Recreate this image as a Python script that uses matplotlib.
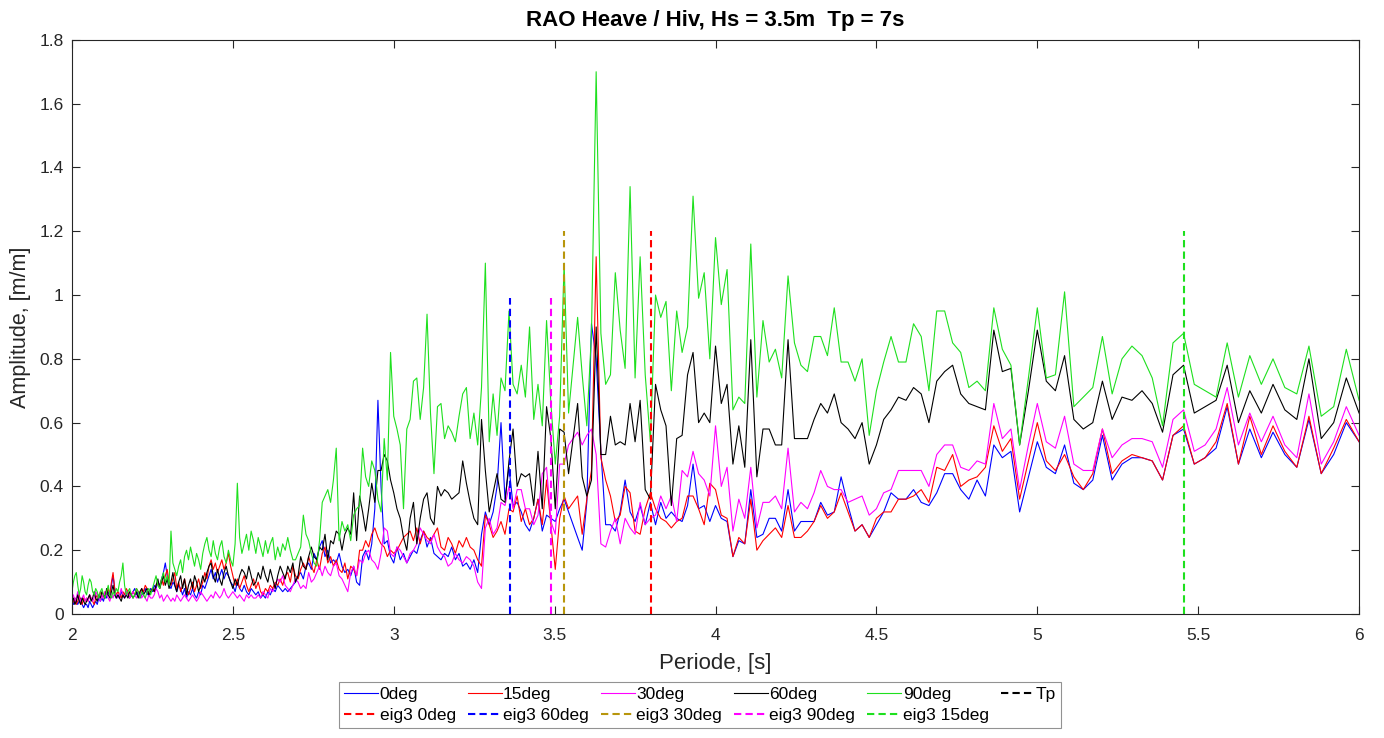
import numpy as np
import matplotlib
matplotlib.use('Agg')
import matplotlib.pyplot as plt
from matplotlib.ticker import MultipleLocator, FuncFormatter

plt.rcParams['font.family'] = ['Liberation Sans', 'DejaVu Sans']

# sampled wave frequencies [Hz] -> periods [s]
freq = np.linspace(1 / 2, 1 / 6, 301)
period = 1.0 / freq

amp_0deg = [
    0.04, 0.03, 0.05, 0.04, 0.03, 0.04, 0.05, 0.03, 0.02, 0.03,
    0.03, 0.02, 0.04, 0.03, 0.02, 0.03, 0.04, 0.03, 0.05, 0.04,
    0.05, 0.04, 0.06, 0.05, 0.07, 0.06, 0.09, 0.12, 0.08, 0.05,
    0.06, 0.05, 0.07, 0.06, 0.05, 0.07, 0.06, 0.05, 0.06, 0.07,
    0.08, 0.06, 0.07, 0.05, 0.06, 0.07, 0.08, 0.06, 0.07, 0.08,
    0.07, 0.09, 0.08, 0.10, 0.09, 0.11, 0.13, 0.16, 0.12, 0.09,
    0.08, 0.10, 0.09, 0.07, 0.09, 0.08, 0.06, 0.08, 0.05, 0.07,
    0.06, 0.08, 0.06, 0.05, 0.07, 0.06, 0.09, 0.08, 0.10, 0.12,
    0.14, 0.11, 0.13, 0.10, 0.12, 0.14, 0.11, 0.13, 0.12, 0.10,
    0.09, 0.07, 0.10, 0.08, 0.07, 0.09, 0.07, 0.06, 0.08, 0.07,
    0.06, 0.07, 0.05, 0.06, 0.05, 0.07, 0.06, 0.08, 0.07, 0.09,
    0.08, 0.07, 0.08, 0.07, 0.08, 0.09, 0.10, 0.12, 0.13, 0.11,
    0.15, 0.16, 0.14, 0.19, 0.17, 0.21, 0.23, 0.18, 0.20, 0.16,
    0.17, 0.16, 0.19, 0.15, 0.13, 0.14, 0.12, 0.15, 0.10, 0.09,
    0.18, 0.20, 0.17, 0.22, 0.33, 0.67, 0.40, 0.22, 0.23, 0.18,
    0.16, 0.21, 0.17, 0.19, 0.16, 0.18, 0.20, 0.19, 0.23, 0.26,
    0.21, 0.24, 0.19, 0.18, 0.17, 0.19, 0.18, 0.21, 0.17, 0.19,
    0.15, 0.16, 0.14, 0.17, 0.13, 0.25, 0.32, 0.28, 0.32, 0.40,
    0.60, 0.36, 0.46, 0.34, 0.35, 0.32, 0.28, 0.26, 0.30, 0.36,
    0.26, 0.31, 0.30, 0.29, 0.33, 0.36, 0.32, 0.28, 0.24, 0.20,
    0.35, 0.91, 0.80, 0.51, 0.28, 0.28, 0.26, 0.32, 0.42, 0.32,
    0.29, 0.34, 0.28, 0.35, 0.28, 0.35, 0.30, 0.32, 0.30, 0.29,
    0.34, 0.47, 0.33, 0.34, 0.29, 0.34, 0.30, 0.29, 0.18, 0.23,
    0.22, 0.39, 0.24, 0.25, 0.30, 0.30, 0.26, 0.39, 0.26, 0.29,
    0.29, 0.29, 0.35, 0.31, 0.32, 0.43, 0.34, 0.26, 0.28, 0.24,
    0.28, 0.32, 0.38, 0.36, 0.36, 0.39, 0.35, 0.34, 0.38, 0.44,
    0.44, 0.39, 0.36, 0.42, 0.37, 0.53, 0.49, 0.51, 0.32, 0.43,
    0.54, 0.46, 0.44, 0.53, 0.41, 0.39, 0.42, 0.56, 0.42, 0.47,
    0.49, 0.49, 0.48, 0.42, 0.56, 0.58, 0.47, 0.49, 0.52, 0.65,
    0.47, 0.58, 0.49, 0.57, 0.50, 0.46, 0.61, 0.44, 0.50, 0.60,
    0.54,
]

amp_15deg = [
    0.03, 0.04, 0.05, 0.03, 0.04, 0.06, 0.04, 0.03, 0.05, 0.04,
    0.05, 0.04, 0.06, 0.05, 0.04, 0.03, 0.05, 0.06, 0.05, 0.07,
    0.06, 0.05, 0.07, 0.06, 0.08, 0.06, 0.10, 0.13, 0.08, 0.06,
    0.07, 0.06, 0.05, 0.07, 0.06, 0.08, 0.07, 0.05, 0.06, 0.07,
    0.06, 0.08, 0.07, 0.06, 0.08, 0.07, 0.09, 0.08, 0.06, 0.07,
    0.08, 0.07, 0.09, 0.10, 0.08, 0.11, 0.09, 0.12, 0.14, 0.10,
    0.09, 0.11, 0.13, 0.08, 0.10, 0.07, 0.09, 0.11, 0.08, 0.06,
    0.08, 0.10, 0.07, 0.09, 0.11, 0.08, 0.10, 0.13, 0.11, 0.15,
    0.17, 0.14, 0.16, 0.13, 0.15, 0.17, 0.14, 0.16, 0.19, 0.15,
    0.12, 0.09, 0.11, 0.08, 0.10, 0.12, 0.09, 0.07, 0.09, 0.11,
    0.08, 0.10, 0.07, 0.06, 0.08, 0.07, 0.09, 0.08, 0.10, 0.09,
    0.11, 0.09, 0.12, 0.13, 0.10, 0.15, 0.12, 0.11, 0.14, 0.16,
    0.14, 0.18, 0.15, 0.13, 0.17, 0.14, 0.19, 0.21, 0.16, 0.18,
    0.15, 0.17, 0.14, 0.13, 0.16, 0.11, 0.15, 0.14, 0.12, 0.20,
    0.20, 0.23, 0.21, 0.25, 0.27, 0.24, 0.22, 0.21, 0.18, 0.20,
    0.19, 0.20, 0.22, 0.24, 0.25, 0.26, 0.23, 0.27, 0.22, 0.26,
    0.24, 0.23, 0.25, 0.27, 0.21, 0.20, 0.24, 0.22, 0.19, 0.23,
    0.21, 0.24, 0.21, 0.20, 0.17, 0.15, 0.31, 0.28, 0.24, 0.26,
    0.29, 0.25, 0.33, 0.32, 0.37, 0.29, 0.33, 0.28, 0.30, 0.36,
    0.28, 0.42, 0.28, 0.14, 0.30, 0.37, 0.33, 0.35, 0.37, 0.25,
    0.36, 0.45, 1.12, 0.49, 0.42, 0.37, 0.29, 0.31, 0.40, 0.38,
    0.26, 0.25, 0.33, 0.38, 0.33, 0.30, 0.29, 0.27, 0.29, 0.30,
    0.37, 0.37, 0.33, 0.28, 0.41, 0.39, 0.31, 0.30, 0.18, 0.24,
    0.22, 0.36, 0.20, 0.23, 0.25, 0.27, 0.24, 0.34, 0.24, 0.24,
    0.26, 0.29, 0.34, 0.30, 0.32, 0.38, 0.32, 0.26, 0.28, 0.24,
    0.30, 0.32, 0.32, 0.36, 0.36, 0.37, 0.39, 0.35, 0.46, 0.45,
    0.50, 0.40, 0.42, 0.43, 0.46, 0.59, 0.51, 0.55, 0.36, 0.48,
    0.60, 0.48, 0.45, 0.50, 0.43, 0.39, 0.44, 0.58, 0.44, 0.48,
    0.50, 0.49, 0.48, 0.42, 0.56, 0.59, 0.47, 0.49, 0.54, 0.66,
    0.47, 0.62, 0.50, 0.59, 0.51, 0.46, 0.62, 0.44, 0.52, 0.61,
    0.54,
]

amp_30deg = [
    0.05, 0.06, 0.04, 0.05, 0.07, 0.05, 0.04, 0.05, 0.06, 0.04,
    0.05, 0.04, 0.06, 0.05, 0.04, 0.05, 0.07, 0.06, 0.05, 0.04,
    0.06, 0.05, 0.07, 0.06, 0.05, 0.04, 0.06, 0.05, 0.07, 0.06,
    0.05, 0.06, 0.08, 0.06, 0.05, 0.07, 0.06, 0.05, 0.06, 0.07,
    0.06, 0.05, 0.06, 0.07, 0.05, 0.06, 0.05, 0.04, 0.06, 0.05,
    0.05, 0.06, 0.08, 0.07, 0.05, 0.06, 0.04, 0.05, 0.06, 0.05,
    0.04, 0.05, 0.04, 0.06, 0.05, 0.04, 0.05, 0.06, 0.05, 0.04,
    0.05, 0.06, 0.05, 0.04, 0.05, 0.07, 0.06, 0.05, 0.04, 0.05,
    0.06, 0.05, 0.07, 0.06, 0.05, 0.06, 0.08, 0.06, 0.05, 0.06,
    0.07, 0.06, 0.05, 0.06, 0.05, 0.04, 0.06, 0.05, 0.06, 0.05,
    0.05, 0.06, 0.05, 0.07, 0.06, 0.05, 0.08, 0.07, 0.09, 0.11,
    0.10, 0.12, 0.09, 0.08, 0.07, 0.09, 0.11, 0.10, 0.08, 0.09,
    0.08, 0.13, 0.10, 0.11, 0.13, 0.15, 0.12, 0.15, 0.13, 0.12,
    0.15, 0.16, 0.12, 0.11, 0.09, 0.07, 0.13, 0.15, 0.12, 0.17,
    0.16, 0.19, 0.20, 0.17, 0.16, 0.14, 0.19, 0.27, 0.26, 0.19,
    0.18, 0.21, 0.20, 0.18, 0.16, 0.19, 0.20, 0.22, 0.27, 0.25,
    0.23, 0.22, 0.25, 0.21, 0.19, 0.18, 0.15, 0.16, 0.19, 0.17,
    0.16, 0.18, 0.17, 0.15, 0.10, 0.08, 0.27, 0.30, 0.25, 0.27,
    0.35, 0.34, 0.40, 0.33, 0.39, 0.39, 0.33, 0.33, 0.28, 0.31,
    0.44, 0.46, 0.29, 0.25, 0.47, 0.47, 0.53, 0.55, 0.57, 0.53,
    0.56, 0.58, 0.50, 0.22, 0.21, 0.26, 0.30, 0.22, 0.30, 0.27,
    0.25, 0.35, 0.28, 0.30, 0.31, 0.37, 0.33, 0.37, 0.29, 0.45,
    0.43, 0.51, 0.44, 0.42, 0.37, 0.59, 0.40, 0.46, 0.26, 0.36,
    0.30, 0.46, 0.27, 0.35, 0.35, 0.37, 0.33, 0.52, 0.32, 0.35,
    0.33, 0.38, 0.45, 0.40, 0.39, 0.39, 0.35, 0.36, 0.37, 0.31,
    0.33, 0.38, 0.39, 0.45, 0.45, 0.45, 0.45, 0.40, 0.50, 0.53,
    0.53, 0.46, 0.45, 0.48, 0.47, 0.66, 0.55, 0.58, 0.39, 0.53,
    0.66, 0.54, 0.52, 0.62, 0.47, 0.45, 0.45, 0.58, 0.49, 0.53,
    0.55, 0.55, 0.54, 0.46, 0.61, 0.64, 0.51, 0.53, 0.58, 0.71,
    0.53, 0.63, 0.54, 0.62, 0.53, 0.49, 0.69, 0.47, 0.54, 0.65,
    0.56,
]

amp_60deg = [
    0.04, 0.05, 0.03, 0.04, 0.06, 0.04, 0.03, 0.05, 0.04, 0.03,
    0.04, 0.05, 0.06, 0.04, 0.05, 0.07, 0.05, 0.04, 0.06, 0.05,
    0.07, 0.06, 0.05, 0.08, 0.06, 0.05, 0.07, 0.09, 0.06, 0.05,
    0.06, 0.05, 0.04, 0.06, 0.05, 0.06, 0.05, 0.07, 0.06, 0.05,
    0.06, 0.07, 0.05, 0.07, 0.08, 0.06, 0.07, 0.08, 0.06, 0.07,
    0.08, 0.07, 0.09, 0.11, 0.08, 0.10, 0.12, 0.09, 0.11, 0.08,
    0.10, 0.13, 0.09, 0.07, 0.10, 0.12, 0.08, 0.11, 0.06, 0.09,
    0.11, 0.08, 0.12, 0.10, 0.07, 0.09, 0.12, 0.10, 0.13, 0.15,
    0.16, 0.12, 0.10, 0.14, 0.11, 0.09, 0.13, 0.15, 0.12, 0.10,
    0.08, 0.11, 0.09, 0.12, 0.14, 0.13, 0.11, 0.15, 0.12, 0.09,
    0.10, 0.13, 0.11, 0.15, 0.12, 0.10, 0.14, 0.11, 0.08, 0.12,
    0.15, 0.13, 0.11, 0.15, 0.13, 0.16, 0.10, 0.12, 0.18, 0.15,
    0.14, 0.18, 0.21, 0.18, 0.17, 0.21, 0.20, 0.25, 0.17, 0.23,
    0.22, 0.26, 0.25, 0.20, 0.25, 0.27, 0.25, 0.38, 0.23, 0.37,
    0.32, 0.26, 0.33, 0.41, 0.35, 0.45, 0.45, 0.50, 0.48, 0.42,
    0.38, 0.33, 0.30, 0.24, 0.20, 0.30, 0.35, 0.22, 0.30, 0.36,
    0.38, 0.30, 0.28, 0.40, 0.37, 0.39, 0.38, 0.36, 0.37, 0.38,
    0.48, 0.41, 0.35, 0.30, 0.28, 0.61, 0.45, 0.32, 0.38, 0.44,
    0.36, 0.35, 0.48, 0.58, 0.40, 0.44, 0.43, 0.44, 0.34, 0.51,
    0.33, 0.65, 0.55, 0.33, 0.58, 0.57, 0.44, 0.55, 0.66, 0.43,
    0.37, 0.42, 0.90, 0.50, 0.50, 0.62, 0.53, 0.54, 0.53, 0.66,
    0.54, 0.67, 0.39, 0.36, 0.72, 0.64, 0.59, 0.34, 0.55, 0.56,
    0.75, 0.82, 0.60, 0.63, 0.60, 0.84, 0.66, 0.72, 0.47, 0.59,
    0.46, 0.86, 0.43, 0.58, 0.58, 0.53, 0.53, 0.86, 0.55, 0.55,
    0.55, 0.61, 0.66, 0.63, 0.69, 0.60, 0.58, 0.55, 0.60, 0.47,
    0.53, 0.61, 0.64, 0.68, 0.67, 0.71, 0.69, 0.60, 0.73, 0.76,
    0.78, 0.69, 0.66, 0.65, 0.64, 0.89, 0.76, 0.77, 0.53, 0.70,
    0.89, 0.73, 0.70, 0.81, 0.61, 0.58, 0.60, 0.73, 0.61, 0.68,
    0.67, 0.70, 0.66, 0.57, 0.75, 0.78, 0.63, 0.65, 0.67, 0.78,
    0.60, 0.70, 0.63, 0.72, 0.64, 0.61, 0.80, 0.55, 0.60, 0.74,
    0.63,
]

amp_90deg = [
    0.07, 0.10, 0.12, 0.13, 0.09, 0.06, 0.08, 0.12, 0.10, 0.07,
    0.06, 0.09, 0.11, 0.10, 0.07, 0.06, 0.08, 0.07, 0.05, 0.07,
    0.08, 0.06, 0.05, 0.07, 0.09, 0.06, 0.05, 0.07, 0.06, 0.08,
    0.07, 0.10, 0.12, 0.16, 0.09, 0.06, 0.07, 0.08, 0.06, 0.05,
    0.06, 0.08, 0.07, 0.05, 0.07, 0.06, 0.05, 0.07, 0.08, 0.06,
    0.08, 0.10, 0.12, 0.09, 0.08, 0.11, 0.13, 0.10, 0.12, 0.09,
    0.26, 0.16, 0.14, 0.12, 0.15, 0.17, 0.13, 0.18, 0.20, 0.17,
    0.21, 0.18, 0.15, 0.19, 0.17, 0.14, 0.19, 0.22, 0.24, 0.20,
    0.18, 0.23, 0.19, 0.17, 0.21, 0.23, 0.18, 0.16, 0.20, 0.17,
    0.15, 0.22, 0.41, 0.24, 0.19, 0.22, 0.25, 0.20, 0.26, 0.23,
    0.19, 0.24, 0.21, 0.18, 0.23, 0.19, 0.22, 0.24, 0.17, 0.21,
    0.18, 0.22, 0.20, 0.24, 0.20, 0.17, 0.17, 0.19, 0.21, 0.31,
    0.25, 0.23, 0.19, 0.16, 0.15, 0.23, 0.35, 0.37, 0.39, 0.35,
    0.42, 0.52, 0.23, 0.29, 0.26, 0.28, 0.23, 0.31, 0.33, 0.34,
    0.52, 0.43, 0.40, 0.48, 0.45, 0.36, 0.32, 0.55, 0.42, 0.82,
    0.62, 0.58, 0.53, 0.33, 0.58, 0.61, 0.73, 0.74, 0.61, 0.71,
    0.94, 0.63, 0.44, 0.65, 0.66, 0.55, 0.59, 0.57, 0.54, 0.62,
    0.69, 0.71, 0.55, 0.63, 0.53, 0.71, 1.10, 0.54, 0.69, 0.56,
    0.74, 0.70, 0.95, 0.72, 0.69, 0.78, 0.68, 0.90, 0.61, 0.72,
    0.59, 0.92, 0.66, 0.47, 0.62, 1.10, 0.63, 0.78, 0.93, 0.75,
    0.59, 0.88, 1.70, 0.88, 0.72, 0.75, 1.07, 0.89, 0.77, 1.34,
    0.74, 1.12, 0.75, 0.54, 1.00, 0.93, 0.98, 0.70, 0.95, 0.82,
    0.90, 1.31, 0.99, 1.07, 0.80, 1.18, 0.97, 1.08, 0.64, 0.68,
    0.66, 1.16, 0.68, 0.92, 0.79, 0.83, 0.74, 1.06, 0.85, 0.78,
    0.76, 0.87, 0.87, 0.81, 0.96, 0.79, 0.79, 0.73, 0.80, 0.56,
    0.70, 0.79, 0.87, 0.79, 0.79, 0.91, 0.87, 0.70, 0.95, 0.95,
    0.85, 0.82, 0.71, 0.73, 0.70, 0.96, 0.83, 0.78, 0.53, 0.74,
    0.96, 0.74, 0.75, 1.01, 0.65, 0.68, 0.71, 0.87, 0.69, 0.80,
    0.84, 0.81, 0.74, 0.59, 0.85, 0.88, 0.72, 0.70, 0.68, 0.85,
    0.68, 0.81, 0.72, 0.80, 0.71, 0.69, 0.84, 0.62, 0.65, 0.83,
    0.67,
]

series_labels = ['0deg', '15deg', '30deg', '60deg', '90deg']
series_colors = ['#0000ff', '#ff0000', '#ff00ff', '#000000', '#1ee01e']

eig_labels = ['eig3 0deg', 'eig3 60deg', 'eig3 30deg', 'eig3 90deg', 'eig3 15deg']
eig_period = [3.80, 3.36, 3.53, 3.49, 5.455]
eig_height = [1.2, 0.99, 1.2, 0.99, 1.2]
eig_colors = ['#ff0000', '#0000ff', '#b8960c', '#ff00ff', '#1ee01e']

tp = 7.0
tp_height = 1.2

fig = plt.figure(figsize=(13.84, 7.38), dpi=100)
ax = fig.add_axes([0.052, 0.168, 0.930, 0.778])

curves = []
for amp, lab, col in zip([amp_0deg, amp_15deg, amp_30deg, amp_60deg, amp_90deg],
                         series_labels, series_colors):
    h, = ax.plot(period, amp, color=col, lw=0.8, label=lab)
    curves.append(h)

tp_line, = ax.plot([tp, tp], [0, tp_height], color='k', lw=1.5,
                   linestyle=(0, (3.5, 2)), label='Tp')

eig_lines = []
for x, top, lab, col in zip(eig_period, eig_height, eig_labels, eig_colors):
    h, = ax.plot([x, x], [0, top], color=col, lw=1.5,
                 linestyle=(0, (3.5, 2)), label=lab)
    eig_lines.append(h)

ax.set_xlim(2, 6)
ax.set_ylim(0, 1.8)
ax.xaxis.set_major_locator(MultipleLocator(0.5))
ax.yaxis.set_major_locator(MultipleLocator(0.2))
fmt = FuncFormatter(lambda v, p: '%g' % round(v, 2))
ax.xaxis.set_major_formatter(fmt)
ax.yaxis.set_major_formatter(fmt)
ax.tick_params(direction='in', top=True, right=True, length=6, width=0.8,
               labelsize=12.5, colors='#262626', pad=6)
ax.tick_params(axis='x', pad=10)
for s in ax.spines.values():
    s.set_color('#262626')
    s.set_linewidth(0.8)

ax.set_title('RAO Heave / Hiv, Hs = 3.5m  Tp = 7s', fontsize=16,
             fontweight='bold', pad=10)
ax.set_xlabel('Periode, [s]', fontsize=16, color='#262626', labelpad=7)
ax.set_ylabel('Amplitude, [m/m]', fontsize=15.5, color='#262626', labelpad=6)

# row-major legend order (matplotlib fills columns first)
order = [curves[0], eig_lines[0], curves[1], eig_lines[1], curves[2], eig_lines[2],
         curves[3], eig_lines[3], curves[4], eig_lines[4], tp_line]
leg = fig.legend(handles=order, labels=[h.get_label() for h in order],
                 loc='upper center', bbox_to_anchor=(0.506, 0.0765), ncol=6,
                 fontsize=12.5, frameon=True, fancybox=False, borderpad=0.3,
                 handlelength=1.95, handletextpad=0.08, columnspacing=0.7,
                 labelspacing=0.35, borderaxespad=0)
leg.get_frame().set_edgecolor('#777777')
leg.get_frame().set_linewidth(0.8)

fig.savefig('out.png', dpi=100)
